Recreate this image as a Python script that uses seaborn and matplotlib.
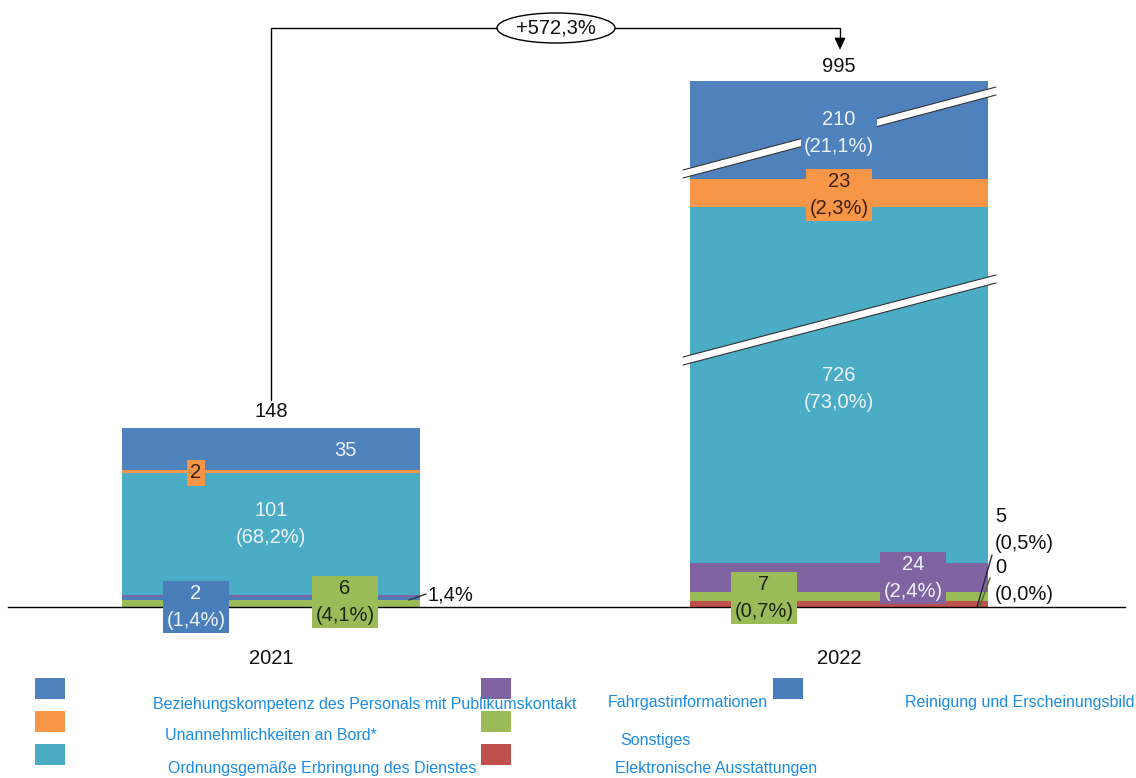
import numpy as np
import pandas as pd
import matplotlib
matplotlib.use("Agg")
import matplotlib.pyplot as plt
import seaborn as sns
from matplotlib.patches import Rectangle, Ellipse, Polygon
from matplotlib.lines import Line2D

# ---------------- data ----------------
years = ["2021", "2022"]
categories = [
    "Elektronische Ausstattungen",
    "Sonstiges",
    "Reinigung und Erscheinungsbild",
    "Fahrgastinformationen",
    "Ordnungsgemäße Erbringung des Dienstes",
    "Unannehmlichkeiten an Bord*",
    "Beziehungskompetenz des Personals mit Publikumskontakt",
]
values_2021 = [0, 6, 2, 2, 101, 2, 35]
values_2022 = [5, 7, 0, 24, 726, 23, 210]
totals = [148, 995]
change_label = "+572,3%"
colors = ["#C0504D", "#9BBB59", "#4A7EBB", "#8064A2", "#4BACC6", "#F79646", "#4F81BD"]

# ---------------- style ----------------
sns.set_style("white")
plt.rcParams["font.family"] = ["Liberation Sans", "DejaVu Sans"]

W, H = 1136, 778
fig = plt.figure(figsize=(W / 100, H / 100), dpi=100)
PX = 1.21            # pixels per value unit on the linear parts
BASE = 607           # baseline pixel row
ax = fig.add_axes([8 / W, 1 - BASE / H, 1117 / W, BASE / H])

# broken-axis scale (piecewise linear)
data_knots = np.array([-1000, 0, 225, 657, 820, 950, 1200])
disp_knots = np.array([-1000, 0, 225, 225.5, 388.5, 390, 640])

def fwd(v):
    return np.interp(v, data_knots, disp_knots)

def inv(u):
    return np.interp(u, disp_knots, data_knots)

# long table with stacking bottoms
rows = []
for yr, vals in zip(years, [values_2021, values_2022]):
    cum = 0
    for cat, v in zip(categories, vals):
        rows.append(dict(year=yr, category=cat, value=v, bottom=cum))
        cum += v
df = pd.DataFrame(rows)

bar_w = 298 / 568
for cat, col in zip(categories, colors):
    sub = df[df["category"] == cat]
    sns.barplot(data=sub, x="year", y="value", order=years, color=col,
                saturation=1, width=bar_w, bottom=sub["bottom"].to_numpy(),
                linewidth=0, errorbar=None, ax=ax)

ax.set_yscale("function", functions=(fwd, inv))
ax.set_ylim(0, inv(BASE / PX))
ax.set_xlim(-263 / 568, (1125 - 271) / 568)
ax.set_xlabel("")
ax.set_ylabel("")
ax.set_yticks([])
for s in ["left", "right", "top"]:
    ax.spines[s].set_visible(False)
ax.spines["bottom"].set_color("black")
ax.spines["bottom"].set_linewidth(1.0)
ax.tick_params(axis="x", length=0, pad=30, labelsize=14.5, labelcolor="#111111")

def fxy(px, py):
    return (px / W, 1 - py / H)

def dxy(px, py):
    return ((px - 271) / 568, inv((BASE - py) / PX))

light = "#eef3fb"
dark_o = "#3a1f0c"
dark_g = "#1c2410"
FS = 14.5
LS = 1.5

def label(px, py, txt, color, box=None, ha="center", z=6):
    x, y = dxy(px, py)
    kw = {}
    if box is not None:
        kw["bbox"] = dict(boxstyle="square,pad=0.15", fc=box, ec="none")
    ax.text(x, y, txt, ha=ha, va="center", fontsize=FS, color=color,
            linespacing=LS, zorder=z, clip_on=False, **kw)

v21 = dict(zip(categories, values_2021))
v22 = dict(zip(categories, values_2022))
col = dict(zip(categories, colors))

def pct(v, t):
    return f"{v / t * 100:.1f}".replace(".", ",") + "%"

c_el, c_so, c_re, c_fa, c_or, c_un, c_be = categories

# 2021 labels
label(271, 412, str(totals[0]), "#111111")
label(345, 451, str(v21[c_be]), light)
label(196, 473, str(v21[c_un]), dark_o, box=col[c_un])
label(271, 524, f"{v21[c_or]}\n({pct(v21[c_or], totals[0])})", light)
label(196, 607, f"{v21[c_re]}\n({pct(v21[c_re], totals[0])})", light, box=col[c_re])
label(345, 602, f"{v21[c_so]}\n({pct(v21[c_so], totals[0])})", dark_g, box=col[c_so])
label(428, 595, pct(v21[c_fa], totals[0]), "#111111", ha="left")

def seg(x0, y0, x1, y1, color="#333333", lw=1.0, z=7):
    ax.add_line(Line2D([x0 / W, x1 / W], [1 - y0 / H, 1 - y1 / H], color=color, lw=lw,
                       transform=fig.transFigure, clip_on=False, zorder=z))

seg(409, 600, 426, 594)

# 2022 labels
label(839, 67, str(totals[1]), "#111111")
label(839, 133, f"{v22[c_be]}\n({pct(v22[c_be], totals[1])})", light, box=col[c_be], z=9)
label(839, 195, f"{v22[c_un]}\n({pct(v22[c_un], totals[1])})", dark_o, box=col[c_un])
label(839, 389, f"{v22[c_or]}\n({pct(v22[c_or], totals[1])})", light)
label(913, 578, f"{v22[c_fa]}\n({pct(v22[c_fa], totals[1])})", light, box=col[c_fa])
label(764, 598, f"{v22[c_so]}\n({pct(v22[c_so], totals[1])})", dark_g, box=col[c_so])
label(995, 530, f"{v22[c_el]}\n({pct(v22[c_el], totals[1])})", "#111111", ha="left")
label(995, 581, f"{v22[c_re]}\n({pct(v22[c_re], totals[1])})", "#111111", ha="left")
seg(992, 555, 977, 607, color="#222244")
seg(990, 578, 980, 606, color="#4a6a20")

# axis break marks on the 2022 bar (inside the axes so labels can sit above)
def brk(xl, yl, xr, yr, h=4):
    pts = [fxy(xl, yl - h), fxy(xr, yr - h), fxy(xr, yr + h), fxy(xl, yl + h)]
    ax.add_patch(Polygon(pts, closed=True, fc="white", ec="none", zorder=7,
                         transform=fig.transFigure, clip_on=False))
    for s in (-h, h):
        seg(xl, yl + s, xr, yr + s, color="#333333", lw=0.8, z=7.5)

brk(683, 174, 996, 91)
brk(683, 361, 996, 279)

# change connector
lw = 1.0
fig.add_artist(Line2D([271 / W, 271 / W, 497 / W], [1 - 400 / H, 1 - 28 / H, 1 - 28 / H], color="black", lw=lw))
fig.add_artist(Line2D([615 / W, 840 / W, 840 / W], [1 - 28 / H, 1 - 28 / H, 1 - 40 / H], color="black", lw=lw))
fig.add_artist(Polygon([fxy(835, 38), fxy(845, 38), fxy(840, 49)], closed=True, fc="black", ec="black", lw=0.5))
fig.add_artist(Ellipse(fxy(556, 28), 118 / W, 30 / H, fc="white", ec="black", lw=1))
fig.text(556 / W, 1 - 28 / H, change_label, ha="center", va="center", fontsize=FS, color="#111111")

# legend
leg_color = "#1C8CE3"
sq = [(35, 678, c_be), (35, 711, c_un), (35, 744, c_or),
      (481, 678, c_fa), (481, 711, c_so), (481, 744, c_el),
      (773, 678, c_re)]
for x0, y0, cat in sq:
    fig.add_artist(Rectangle(fxy(x0, y0 + 21), 30 / W, 21 / H, fc=col[cat], ec="none"))
txt = [(153, 705, c_be), (165, 735, c_un), (168, 769, c_or),
       (608, 703, c_fa), (620, 740, c_so), (615, 769, c_el),
       (905, 703, c_re)]
for x0, y0, cat in txt:
    fig.text(x0 / W, 1 - y0 / H, cat, ha="left", va="center", fontsize=11.5, color=leg_color)

fig.savefig("out.png", dpi=100)
